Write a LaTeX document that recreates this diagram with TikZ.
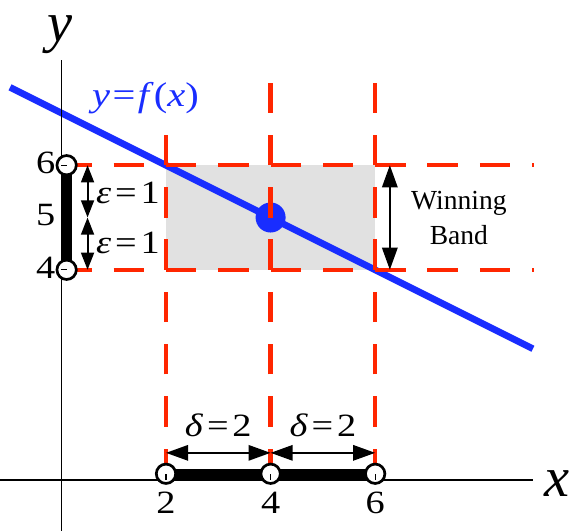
\documentclass[tikz,border=0pt]{standalone}
\usepackage{fontspec}
\setmainfont{Liberation Serif}
\usepackage{graphicx}
\usetikzlibrary{arrows.meta}
\definecolor{dred}{RGB}{255,38,0}
\definecolor{lblue}{RGB}{25,45,255}
\definecolor{bandgray}{RGB}{225,225,225}
\newcommand{\widetext}[1]{\scalebox{1.18}[1]{#1}}
\begin{document}
\begin{tikzpicture}[x=1.5cm,y=1.5cm,
  reddash/.style={draw=dred, line width=3.7pt, dash pattern=on 0.87cm off 0.63cm},
  axisline/.style={draw=black, line width=1pt},
  tickline/.style={draw=black, line width=0.9pt},
  bar/.style={draw=black, line width=8.5pt},
  opendot/.style={circle, draw=black, fill=white, line width=2.2pt, minimum size=0.556cm, inner sep=0pt},
  bigarrow/.style={{Triangle[length=18pt,width=12.5pt]}-{Triangle[length=18pt,width=12.5pt]}, line width=1.7pt},
  smallarrow/.style={{Triangle[length=14pt,width=10.5pt]}-{Triangle[length=14pt,width=10.5pt]}, line width=1.7pt},
  lbl/.style={font=\fontsize{26.5}{30}\selectfont, inner sep=0pt},
  bandlbl/.style={font=\fontsize{22.5}{26}\selectfont, inner sep=0pt, anchor=base},
  axlbl/.style={font=\fontsize{46}{50}\selectfont\itshape, inner sep=0pt, anchor=base, text height=20pt, text depth=10pt}]
\useasboundingbox (-1.174,-0.994) rectangle (9.744,9.159);

% winning region
\fill[bandgray] (2,4) rectangle (6,6);

% function line
\coordinate (fl) at (-0.983,7.49);
\coordinate (fr) at (9.017,2.49);
\draw[lblue, line width=5.5pt] (fl) -- (fr);
\fill[lblue] (4,5) circle (0.287);

% red dashed guides
\coordinate (h6a) at (0,6); \coordinate (h6b) at (9.03,6);
\coordinate (h4a) at (0,4); \coordinate (h4b) at (9.03,4);
\coordinate (v2a) at (2,0); \coordinate (v2b) at (2,6.6);
\coordinate (v4a) at (4,0); \coordinate (v4b) at (4,7.6);
\coordinate (v6a) at (6,0); \coordinate (v6b) at (6,7.6);
\draw[reddash] (h6a) -- (h6b);
\draw[reddash] (h4a) -- (h4b);
\draw[reddash] (v2a) -- (v2b);
\draw[reddash] (v4a) -- (v4b);
\draw[reddash] (v6a) -- (v6b);

% axes
\coordinate (xl) at (-1.2,-0.02); \coordinate (xr) at (9.017,-0.02);
\coordinate (yb) at (0,-1.0); \coordinate (yt) at (0,8.01);
\draw[axisline] (xl) -- (xr);
\draw[axisline] (yb) -- (yt);

% intervals
\coordinate (b2) at (2,0.1); \coordinate (b6) at (6,0.1);
\coordinate (a4) at (0.1,4); \coordinate (a6) at (0.1,6);
\draw[bar] (b2) -- (b6);
\draw[bar] (a4) -- (a6);
\node[opendot] (c2) at (2,0.1) {};
\node[opendot] (c4) at (4,0.1) {};
\node[opendot] (c6) at (6,0.1) {};
\node[opendot] (d4) at (0.1,4) {};
\node[opendot] (d6) at (0.1,6) {};
\coordinate (k2) at (2,-0.02); \coordinate (k4) at (4,-0.02); \coordinate (k6) at (6,-0.02);
\coordinate (m4) at (0,4); \coordinate (m6) at (0,6);
\draw[tickline] (k2) -- (c2.center);
\draw[tickline] (k4) -- (c4.center);
\draw[tickline] (k6) -- (c6.center);
\draw[tickline] (m4) -- (d4.center);
\draw[tickline] (m6) -- (d6.center);

% dimension arrows
\coordinate (e6) at (0.5,6); \coordinate (e5) at (0.5,5); \coordinate (e4) at (0.5,4);
\draw[smallarrow] (e6) -- (e5);
\draw[smallarrow] (e5) -- (e4);
\coordinate (w6) at (6.28,6); \coordinate (w4) at (6.28,4);
\draw[bigarrow] (w6) -- (w4);
\coordinate (g2) at (2,0.5); \coordinate (g4) at (4,0.5); \coordinate (g6) at (6,0.5);
\draw[bigarrow] (g2) -- (g4);
\draw[bigarrow] (g4) -- (g6);

% labels
\node[lbl, anchor=base] (t2) at (2,-0.66) {\widetext{2}};
\node[lbl, anchor=base] (t4) at (4,-0.66) {\widetext{4}};
\node[lbl, anchor=base] (t6) at (6,-0.66) {\widetext{6}};
\node[lbl, anchor=base] (s6) at (-0.30,5.84) {\widetext{6}};
\node[lbl, anchor=base] (s5) at (-0.30,4.84) {\widetext{5}};
\node[lbl, anchor=base] (s4) at (-0.30,3.84) {\widetext{4}};
\node[lbl, anchor=base west] (eps1) at (0.66,5.27) {\widetext{\textit{ε}\hspace{0.1em}=\hspace{0.1em}1}};
\node[lbl, anchor=base west] (eps2) at (0.66,4.31) {\widetext{\textit{ε}\hspace{0.1em}=\hspace{0.1em}1}};
\node[lbl, anchor=base] (del1) at (3,0.81) {\widetext{\textit{δ}\hspace{0.1em}=\hspace{0.1em}2}};
\node[lbl, anchor=base] (del2) at (5,0.81) {\widetext{\textit{δ}\hspace{0.1em}=\hspace{0.1em}2}};
\node[bandlbl] (win) at (7.6,5.16) {Winning};
\node[bandlbl] (bnd) at (7.6,4.49) {Band};
\node[axlbl] (ylab) at (-0.03,8.37) {y};
\node[axlbl] (xlab) at (9.477,-0.344) {x};
\node[lbl, anchor=base west, text=lblue, font=\fontsize{28}{32}\selectfont] (flab) at (0.585,7.13) {\widetext{\textit{y}\hspace{0.06em}=\hspace{0.06em}\textit{f}(\textit{x})}};
\end{tikzpicture}
\end{document}
